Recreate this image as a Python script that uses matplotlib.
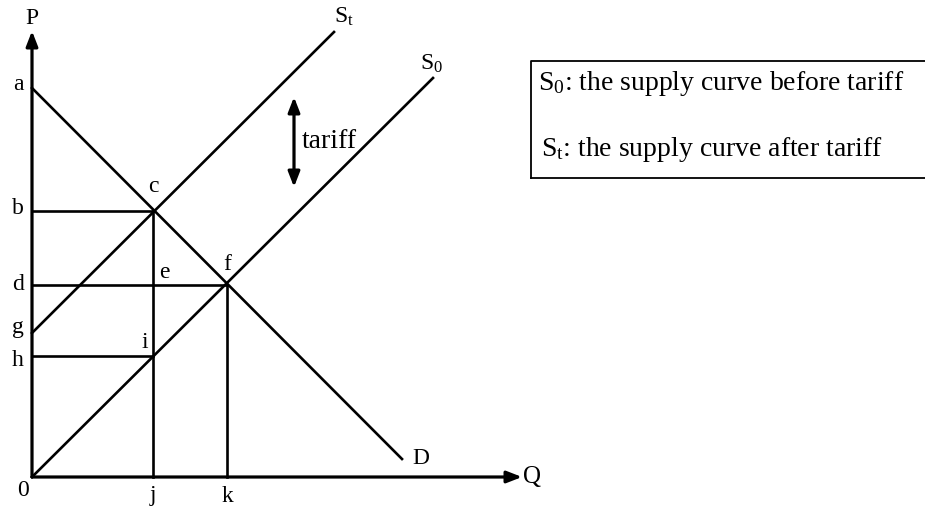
import matplotlib
matplotlib.use('Agg')
import matplotlib.pyplot as plt

plt.rcParams['font.family'] = ['Liberation Serif', 'DejaVu Serif']
plt.rcParams['mathtext.fontset'] = 'custom'
plt.rcParams['mathtext.rm'] = 'Liberation Serif'
plt.rcParams['mathtext.it'] = 'Liberation Serif'

# price levels on the P axis
precios = ['a', 'b', 'd', 'g', 'h']
valores_p = [389, 266, 192, 144, 121]

# quantities on the Q axis
cantidades = ['j', 'k']
valores_q = [121, 195]

# curves (endpoints, Q then P)
demanda_q = [0, 370]
demanda_p = [389, 18]
oferta0_q = [0, 401]
oferta0_p = [0, 399]
ofertat_q = [0, 302]
ofertat_p = [144, 445]

# points on the curves
puntos = ['c', 'e', 'f', 'i']
puntos_q = [121, 121, 195, 121]
puntos_p = [266, 192, 192, 121]

lw = 1.9
fs = 17
fs_grande = 20

fig = plt.figure(figsize=(9.25, 5.07), dpi=100)
ax = fig.add_axes([0, 0, 1, 1])
ax.set_xlim(-32, 893)
ax.set_ylim(-30, 477)
ax.axis('off')

# axes with arrows
ax.annotate('', xy=(0, 446), xytext=(0, 0),
            arrowprops=dict(arrowstyle='-|>,head_length=0.9,head_width=0.35', color='black', lw=2.3, shrinkA=0, shrinkB=0))
ax.annotate('', xy=(490, 0), xytext=(0, 0),
            arrowprops=dict(arrowstyle='-|>,head_length=0.9,head_width=0.35', color='black', lw=2.3, shrinkA=0, shrinkB=0))
ax.text(0, 459, 'P', ha='center', va='center', fontsize=fs)
ax.text(500, 0, 'Q', ha='center', va='center', fontsize=fs + 1)
ax.text(-9, -13, '0', ha='center', va='center', fontsize=fs)

# curves
ax.plot(demanda_q, demanda_p, color='black', lw=lw)
ax.plot(oferta0_q, oferta0_p, color='black', lw=lw)
ax.plot(ofertat_q, ofertat_p, color='black', lw=lw)
ax.text(demanda_q[1] + 10, demanda_p[1] + 1, 'D', ha='left', va='center', fontsize=fs)
ax.text(oferta0_q[1] - 2, oferta0_p[1] + 14, r'S$_\mathrm{0}$', ha='center', va='center', fontsize=fs)
ax.text(ofertat_q[1] + 10, ofertat_p[1] + 15, r'S$_\mathrm{t}$', ha='center', va='center', fontsize=fs)

# horizontal guides
ax.plot([0, puntos_q[0]], [valores_p[1]] * 2, color='black', lw=lw)
ax.plot([0, puntos_q[2]], [valores_p[2]] * 2, color='black', lw=lw)
ax.plot([0, puntos_q[3]], [valores_p[4]] * 2, color='black', lw=lw)
# vertical guides
ax.plot([valores_q[0]] * 2, [0, puntos_p[0]], color='black', lw=lw)
ax.plot([valores_q[1]] * 2, [0, puntos_p[2]], color='black', lw=lw)

ajuste_p = {'a': 3, 'b': 3, 'd': 0, 'g': 5, 'h': -5}
for nombre, p in zip(precios, valores_p):
    ax.text(-14, p + ajuste_p[nombre], nombre, ha='center', va='center', fontsize=fs)
for nombre, q in zip(cantidades, valores_q):
    ax.text(q, -19, nombre, ha='center', va='center', fontsize=fs)

desplaz = {'c': (0, 24), 'e': (11, 13), 'f': (0, 21), 'i': (-8, 13)}
for nombre, q, p in zip(puntos, puntos_q, puntos_p):
    dx, dy = desplaz[nombre]
    ax.text(q + dx, p + dy, nombre, ha='center', va='center', fontsize=fs)

# tariff arrow
ax.annotate('', xy=(262, 380), xytext=(262, 290),
            arrowprops=dict(arrowstyle='<|-|>,head_length=0.9,head_width=0.35', color='black', lw=2.3, shrinkA=0, shrinkB=0))
ax.text(270, 336, 'tariff', ha='left', va='center', fontsize=fs_grande)

# legend box
ax.plot([499, 499, 900], [299, 416, 416], color='black', lw=1.3, clip_on=False)
ax.plot([499, 893], [299, 299], color='black', lw=1.3)
ax.text(506, 394, r'S$_\mathrm{0}$: the supply curve before tariff', ha='left', va='center', fontsize=fs_grande)
ax.text(509, 328, r'S$_\mathrm{t}$: the supply curve after tariff', ha='left', va='center', fontsize=fs_grande)

fig.savefig('out.png', dpi=100)
